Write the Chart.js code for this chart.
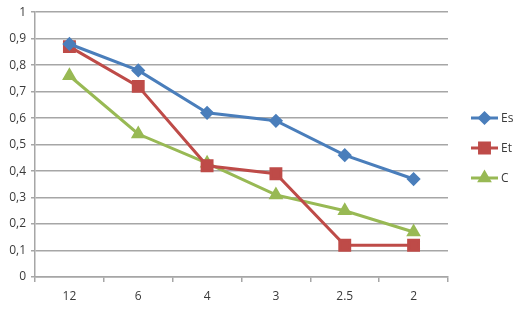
<!DOCTYPE html>
<html>
<head>
<meta charset="utf-8">
<script src="https://cdn.jsdelivr.net/npm/chart.js@4"></script>
<style>
  html, body { margin: 0; padding: 0; background: #fff; }
  #wrap { width: 520px; height: 309px; }
</style>
</head>
<body>
<div id="wrap"><canvas id="c" width="520" height="309"></canvas></div>
<script>
// categories and series
const categories = ['12', '6', '4', '3', '2.5', '2'];
const esValues = [0.88, 0.78, 0.62, 0.59, 0.46, 0.37];
const etValues = [0.87, 0.72, 0.42, 0.39, 0.12, 0.12];
const cValues = [0.76, 0.54, 0.43, 0.31, 0.25, 0.17];
const yTicks = [0, 0.1, 0.2, 0.3, 0.4, 0.5, 0.6, 0.7, 0.8, 0.9, 1];

const FONT = '"Open Sans", "Noto Sans", sans-serif';

// legend with line + marker, like the office one
const sideLegend = {
  id: 'sideLegend',
  afterDraw(chart) {
    const ctx = chart.ctx;
    const x0 = 471, y0 = 118, gap = 30;
    chart.data.datasets.forEach((ds, i) => {
      const y = y0 + i * gap;
      ctx.save();
      ctx.strokeStyle = ds.borderColor;
      ctx.lineWidth = 3;
      ctx.beginPath();
      ctx.moveTo(x0, y);
      ctx.lineTo(x0 + 27, y);
      ctx.stroke();
      ctx.fillStyle = ds.backgroundColor;
      Chart.helpers.drawPoint(ctx, { pointStyle: ds.pointStyle, radius: ds.pointRadius, borderWidth: 1 }, x0 + 13.5, y);
      ctx.fillStyle = '#3a3a3a';
      ctx.font = '12px ' + FONT;
      ctx.textBaseline = 'middle';
      ctx.fillText(ds.label, x0 + 30, y + 1);
      ctx.restore();
    });
  }
};

new Chart(document.getElementById('c'), {
  type: 'line',
  data: {
    labels: categories,
    datasets: [
      {
        label: 'Es',
        data: esValues,
        borderColor: '#4a7ebb',
        backgroundColor: '#4a7ebb',
        borderWidth: 3,
        pointStyle: 'rectRot',
        pointRadius: 5,
        pointHoverRadius: 5,
        tension: 0
      },
      {
        label: 'Et',
        data: etValues,
        borderColor: '#be4b48',
        backgroundColor: '#be4b48',
        borderWidth: 3,
        pointStyle: 'rect',
        pointRadius: 7,
        pointHoverRadius: 7,
        tension: 0
      },
      {
        label: 'C',
        data: cValues,
        borderColor: '#98b954',
        backgroundColor: '#98b954',
        borderWidth: 3,
        pointStyle: 'triangle',
        pointRadius: 5.5,
        pointHoverRadius: 5.5,
        tension: 0
      }
    ]
  },
  options: {
    responsive: false,
    animation: false,
    layout: {
      padding: { left: 0, right: 72, top: 6, bottom: 0 }
    },
    plugins: {
      legend: { display: false },
      tooltip: { enabled: false }
    },
    scales: {
      x: {
        offset: true,
        grid: {
          offset: true,
          drawOnChartArea: false,
          drawTicks: true,
          tickLength: 5,
          color: '#a6a6a6',
          lineWidth: 1.5
        },
        border: { color: '#a6a6a6', width: 1.5 },
        ticks: {
          color: '#3a3a3a',
          font: { family: FONT, size: 12 },
          padding: 7,
          maxRotation: 0
        },
        afterFit: (s) => { s.height = 32; }
      },
      y: {
        min: 0,
        max: 1,
        afterBuildTicks: (s) => { s.ticks = yTicks.map(v => ({ value: v })); },
        grid: {
          color: '#a6a6a6',
          lineWidth: 1.5,
          tickLength: 4
        },
        border: { color: '#a6a6a6', width: 1.5 },
        ticks: {
          color: '#3a3a3a',
          font: { family: FONT, size: 12 },
          padding: 5,
          callback: (v) => (v === 0 || v === 1) ? String(v) : v.toFixed(1).replace('.', ',')
        },
        afterFit: (s) => { s.width = 35; }
      }
    }
  },
  plugins: [sideLegend]
});
</script>
</body>
</html>
